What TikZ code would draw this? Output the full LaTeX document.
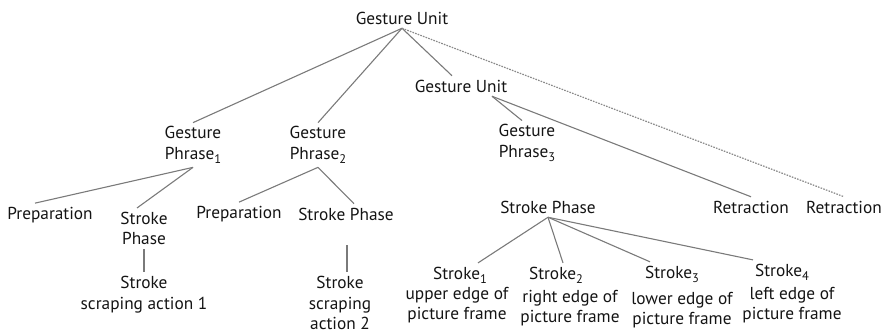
\documentclass[tikz,border=0pt]{standalone}
\usepackage{fontspec}
\setmainfont{PT Sans}
% lowered index digit after a label word
\newcommand\idx[1]{\raisebox{-0.45ex}{\fontsize{12.5}{12.5}\selectfont #1}}
\begin{document}
\begin{tikzpicture}[x=1pt,y=1pt,
  lbl/.style={font=\fontsize{17.3}{20.5}\selectfont, text=black!92, inner sep=1pt, outer sep=3pt, align=center},
  edge/.style={draw=black!52, line width=1.1pt},
  dotedge/.style={draw=black!46, line width=1.2pt, dash pattern=on 1.6pt off 1.2pt}]
\useasboundingbox (0,0) rectangle (885,334);

% top level
\node[lbl] (gu)  at (402,316) {Gesture Unit};
\node[lbl] (gu2) at (461,248) {Gesture Unit};

% gesture phrases
\node[lbl] (gp1) at (193,189) {Gesture\\Phrase\idx{1}};
\node[lbl] (gp2) at (318,189) {Gesture\\Phrase\idx{2}};
\node[lbl] (gp3) at (527,191) {Gesture\\Phrase\idx{3}};

% phases
\node[lbl] (prep1) at (50,119)   {Preparation};
\node[lbl] (sp1)   at (144,105.5) {Stroke\\Phase};
\node[lbl] (prep2) at (239,120)  {Preparation};
\node[lbl] (sp2)   at (346,120)  {Stroke Phase};
\node[lbl] (sp3)   at (548,127)  {Stroke Phase};
\node[lbl] (ret1)  at (751,127)  {Retraction};
\node[lbl] (ret2)  at (844,127)  {Retraction};

% strokes
\node[lbl] (st1) at (144,39.5) {Stroke\\scraping action 1};
\node[lbl] (st2) at (340,31)   {Stroke\\scraping\\action 2};

\node[lbl] (s1) at (460,59) {Stroke\idx{1}};
\node[lbl] (s2) at (556,59) {Stroke\idx{2}};
\node[lbl] (s3) at (672,60) {Stroke\idx{3}};
\node[lbl] (s4) at (782,62) {Stroke\idx{4}};
\node[lbl] (d1) at (457,29) {upper edge of\\picture frame};
\node[lbl] (d2) at (570,26) {right edge of\\picture frame};
\node[lbl] (d3) at (682,24) {lower edge of\\picture frame};
\node[lbl] (d4) at (792,29) {left edge of\\picture frame};

% connectors
\draw[edge] (gu.south) -- (gp1.north);
\draw[edge] (gu.south) -- (gp2.north);
\draw[edge] (gu.south) -- ([xshift=-9pt]gu2.north);
\draw[dotedge] (gu.south) -- (ret2.north);

\draw[edge] ([xshift=31pt]gu2.south) -- ([xshift=-5pt]gp3.north);
\draw[edge] ([xshift=31pt]gu2.south) -- (ret1.north);

\draw[edge] (gp1.south) -- ([xshift=-15pt]prep1.north);
\draw[edge] (gp1.south) -- ([xshift=-7pt]sp1.north);
\draw[edge] (gp2.south) -- (prep2.north);
\draw[edge] (gp2.south) -- ([xshift=8pt]sp2.north);

\draw[edge] (sp1.south) -- (st1.north);
\draw[edge] ([xshift=1pt,yshift=-21pt]sp2.south) -- ([xshift=1pt]sp2.south |- st2.north);

\draw[edge] (sp3.south) -- ([xshift=18pt]s1.north);
\draw[edge] (sp3.south) -- ([xshift=7pt]s2.north);
\draw[edge] (sp3.south) -- ([xshift=-22pt]s3.north);
\draw[edge] (sp3.south) -- ([xshift=-29pt]s4.north);
\end{tikzpicture}
\end{document}
